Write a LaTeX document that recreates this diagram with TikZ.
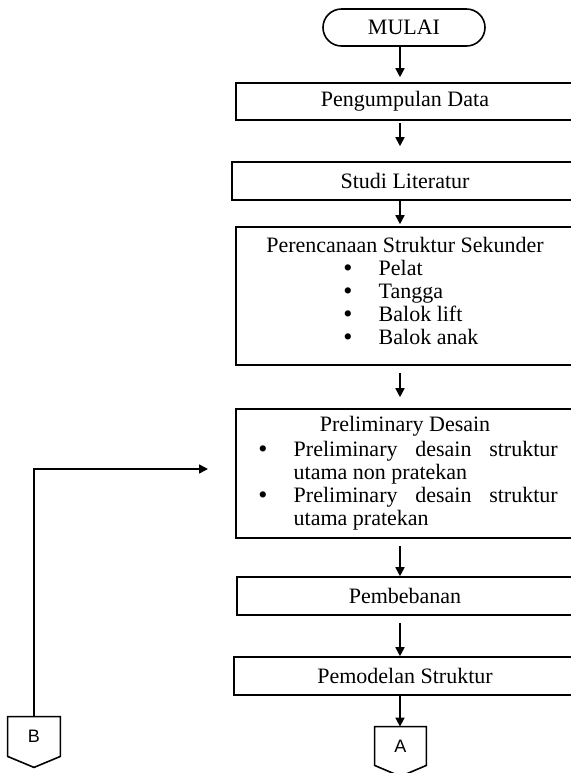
\documentclass[tikz,border=0pt]{standalone}
\usepackage{fontspec}
\setmainfont{Liberation Serif}
\newfontfamily\consans{Liberation Sans}
\usetikzlibrary{arrows.meta,shapes.misc}
\tikzset{
  box/.style={draw,line width=0.8pt,inner sep=0pt,minimum height=19pt,align=center,
    font=\fontsize{11}{11.5}\selectfont},
  arr/.style={-{Triangle[length=4.5pt,width=4.5pt]},line width=0.8pt},
  con/.style={inner sep=0pt,minimum width=26pt,minimum height=19.5pt,
    font=\consans\fontsize{9}{10}\selectfont},
}
\newcommand{\bul}{\makebox[3.85pt]{\raisebox{-0.2pt}{\fontsize{13}{13}\selectfont\textbullet}}}
\newcommand{\itm}[1]{\bul\hspace{13.5pt}#1}
\begin{document}
\begin{tikzpicture}[x=0.5pt,y=-0.5pt]
  \path[use as bounding box,clip] (0,0) rectangle (571,773);
  \coordinate (axis) at (400,0);
  \node[box,rounded rectangle,minimum width=81pt,minimum height=18.5pt] (mulai) at (404,27.5) {MULAI};
  \node[box,minimum width=169pt,minimum height=18.5pt] (kumpul) at (405,101.5) {Pengumpulan Data};
  \node[box,minimum width=173pt] (studi) at (405,181) {Studi Literatur};
  \node[box,minimum width=169pt,minimum height=69pt] (sekunder) at (405,296) {Perencanaan Struktur Sekunder\\
    \makebox[61pt][l]{\itm{Pelat}}\\
    \makebox[61pt][l]{\itm{Tangga}}\\
    \makebox[61pt][l]{\itm{Balok lift}}\\
    \makebox[61pt][l]{\itm{Balok anak}}\\[-6.5pt]\mbox{}};
  \node[box,minimum width=169pt,minimum height=64.5pt] (prelim) at (405,473.5) {Preliminary Desain\\[1pt]
    \makebox[146pt][l]{\itm{\makebox[132pt][s]{Preliminary desain struktur}}}\\
    \makebox[146pt][l]{\hspace{17.35pt}utama non pratekan}\\
    \makebox[146pt][l]{\itm{\makebox[132pt][s]{Preliminary desain struktur}}}\\
    \makebox[146pt][l]{\hspace{17.35pt}utama pratekan}};
  \node[box,minimum width=168pt] (beban) at (405,596) {Pembebanan};
  \node[box,minimum width=171pt] (model) at (405,676) {Pemodelan Struktur};
  % off-page connectors
  \node[con,minimum width=25.5pt,minimum height=19pt] (conA) at (400.5,746) {A};
  \draw[line width=0.8pt] (conA.north west) -- (conA.north east) -- (conA.south east)
    -- ([yshift=-5.5pt]conA.south) -- (conA.south west) -- cycle;
  \node[con] (conB) at (34,736.5) {B};
  \draw[line width=0.8pt] (conB.north west) -- (conB.north east) -- (conB.south east)
    -- ([yshift=-5.5pt]conB.south) -- (conB.south west) -- cycle;
  \draw[arr,shorten >=2.5pt] (mulai.south -| axis) -- (kumpul.north -| axis);
  \draw[arr,shorten <=1pt,shorten >=7.5pt] (kumpul.south -| axis) -- (studi.north -| axis);
  \draw[arr,shorten >=1pt] (studi.south -| axis) -- (sekunder.north -| axis);
  \draw[arr,shorten <=3.5pt,shorten >=5.5pt] (sekunder.south -| axis) -- (prelim.north -| axis);
  \draw[arr,shorten <=3.5pt] (prelim.south -| axis) -- (beban.north -| axis);
  \draw[arr,shorten <=3.5pt] (beban.south -| axis) -- (model.north -| axis);
  \draw[arr] (model.south -| axis) -- (conA.north -| axis);
  \coordinate (btip) at (208,469);
  \draw[arr] (conB.north) |- (btip);
\end{tikzpicture}
\end{document}
